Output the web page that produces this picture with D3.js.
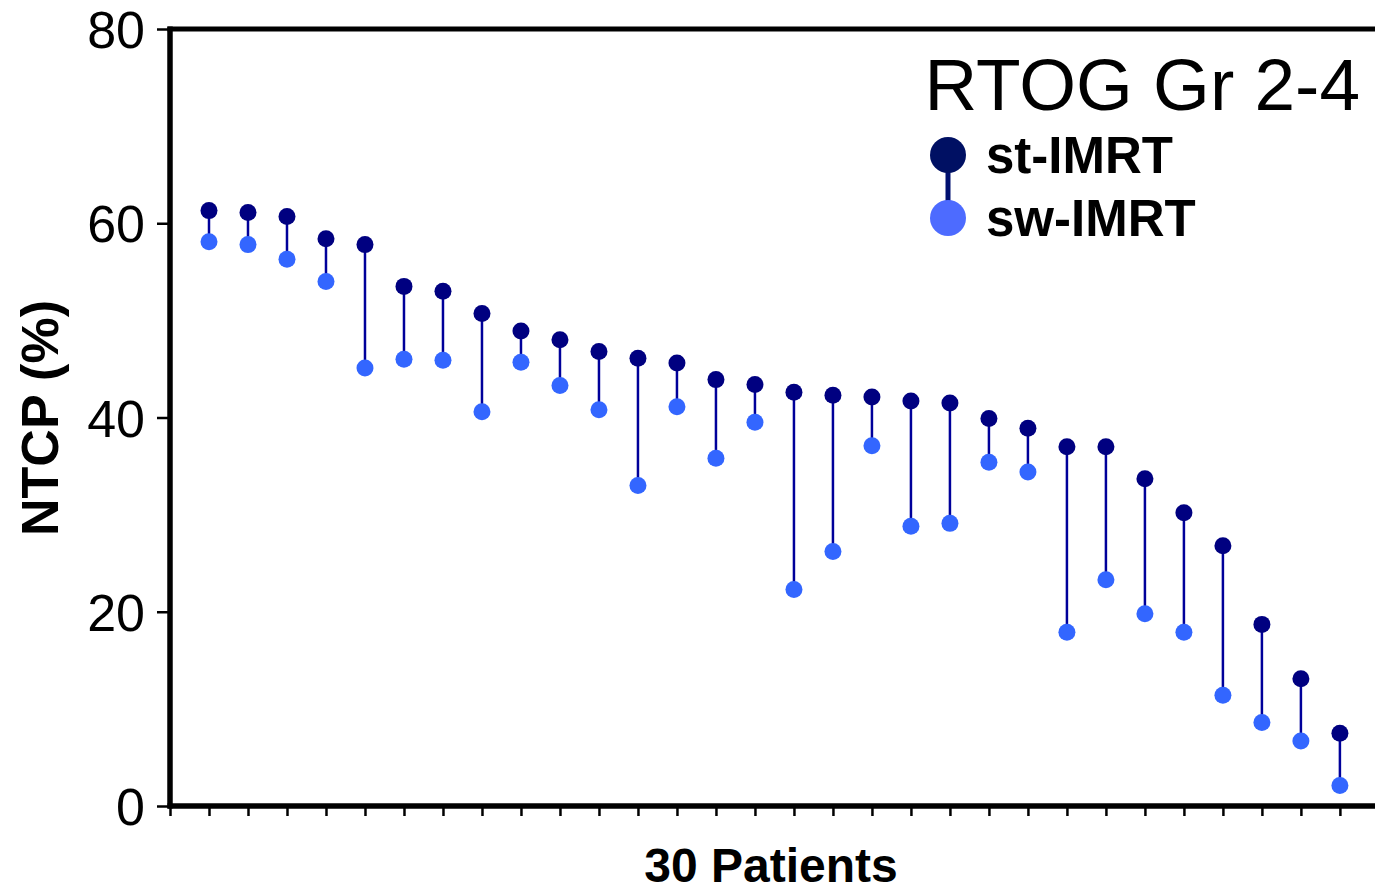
<!DOCTYPE html>
<html>
<head>
<meta charset="utf-8">
<script src="https://cdn.jsdelivr.net/npm/d3@7"></script>
<style>
  body { margin: 0; background: #fff; }
  svg { display: block; font-family: "Liberation Sans", Arial, sans-serif; }
</style>
</head>
<body>
<svg id="chart" width="1375" height="892"></svg>
<script>
// 30 patients, sorted by st-IMRT NTCP
const patients = d3.range(1, 31);
const stIMRT = [61.3, 61.1, 60.7, 58.4, 57.8, 53.5, 53.0, 50.7, 48.9, 48.0,
  46.8, 46.1, 45.6, 43.9, 43.4, 42.6, 42.3, 42.1, 41.7, 41.5,
  39.9, 38.9, 37.0, 37.0, 33.7, 30.2, 26.8, 18.7, 13.1, 7.5];
const swIMRT = [58.1, 57.8, 56.3, 54.0, 45.1, 46.0, 45.9, 40.6, 45.7, 43.3,
  40.8, 33.0, 41.1, 35.8, 39.5, 22.3, 26.2, 37.1, 28.8, 29.1,
  35.4, 34.4, 17.9, 23.3, 19.8, 17.9, 11.4, 8.6, 6.7, 2.1];
const yTicks = [0, 20, 40, 60, 80];
const legendItems = ["st-IMRT", "sw-IMRT"];

const svg = d3.select("#chart");
const pLeft = 170, pRight = 1375, pTop = 29, pBottom = 806;

const x = d3.scaleLinear().domain([0, 30.9]).range([pLeft, pRight]);
const y = d3.scaleLinear().domain([0, 80]).range([pBottom, pTop]);

const darkCol = "#000080";
const lightCol = "#3366ff";
const lineCol = "#00009a";

// y axis
const yAxis = svg.append("g")
  .attr("transform", `translate(${pLeft},0)`)
  .call(d3.axisLeft(y).tickValues(yTicks).tickSize(13).tickPadding(12));
yAxis.select(".domain").remove();
yAxis.selectAll(".tick line").attr("stroke", "#000").attr("stroke-width", 2.5);
yAxis.selectAll(".tick text")
  .attr("font-size", 52)
  .attr("fill", "#000")
  .attr("font-family", "Liberation Sans, Arial, sans-serif")
  .attr("dy", "0.36em");

// x axis ticks (one per patient)
const xAxis = svg.append("g")
  .attr("transform", `translate(0,${pBottom})`)
  .call(d3.axisBottom(x).tickValues(d3.range(0, 31)).tickSize(10).tickFormat(""));
xAxis.select(".domain").remove();
xAxis.selectAll(".tick line").attr("stroke", "#000").attr("stroke-width", 2.5);

// frame: left, top and bottom lines
svg.append("line").attr("x1", pLeft).attr("x2", pLeft).attr("y1", pTop - 2.5).attr("y2", pBottom + 2.5)
  .attr("stroke", "#000").attr("stroke-width", 5.5);
svg.append("line").attr("x1", pLeft - 2.5).attr("x2", pRight).attr("y1", pTop).attr("y2", pTop)
  .attr("stroke", "#000").attr("stroke-width", 5);
svg.append("line").attr("x1", pLeft - 2.5).attr("x2", pRight).attr("y1", pBottom).attr("y2", pBottom)
  .attr("stroke", "#000").attr("stroke-width", 5.5);

// connecting lines
svg.append("g").selectAll("line")
  .data(patients)
  .join("line")
  .attr("x1", d => x(d))
  .attr("x2", d => x(d))
  .attr("y1", (d, i) => y(stIMRT[i]))
  .attr("y2", (d, i) => y(swIMRT[i]))
  .attr("stroke", lineCol)
  .attr("stroke-width", 2.5);

// sw-IMRT points
svg.append("g").selectAll("circle")
  .data(patients)
  .join("circle")
  .attr("cx", d => x(d))
  .attr("cy", (d, i) => y(swIMRT[i]))
  .attr("r", 8.5)
  .attr("fill", lightCol);

// st-IMRT points
svg.append("g").selectAll("circle")
  .data(patients)
  .join("circle")
  .attr("cx", d => x(d))
  .attr("cy", (d, i) => y(stIMRT[i]))
  .attr("r", 8.5)
  .attr("fill", darkCol);

// axis titles
svg.append("text")
  .attr("transform", "translate(58,418) rotate(-90)")
  .attr("text-anchor", "middle")
  .attr("font-size", 52)
  .attr("font-weight", "bold")
  .text("NTCP (%)");

svg.append("text")
  .attr("x", 771)
  .attr("y", 882)
  .attr("text-anchor", "middle")
  .attr("font-size", 48)
  .attr("font-weight", "bold")
  .text("30 Patients");

// legend
svg.append("text")
  .attr("x", 1360)
  .attr("y", 110)
  .attr("text-anchor", "end")
  .attr("font-size", 73)
  .text("RTOG Gr 2-4");

const legY = [155, 218];
svg.append("line")
  .attr("x1", 948).attr("x2", 948)
  .attr("y1", legY[0]).attr("y2", legY[1])
  .attr("stroke", "#001070").attr("stroke-width", 5);
svg.append("g").selectAll("circle")
  .data(legendItems)
  .join("circle")
  .attr("cx", 948)
  .attr("cy", (d, i) => legY[i])
  .attr("r", 18)
  .attr("fill", (d, i) => i === 0 ? "#001063" : "#4d6bff");
svg.append("g").selectAll("text")
  .data(legendItems)
  .join("text")
  .attr("x", 986)
  .attr("y", (d, i) => legY[i] + 18)
  .attr("font-size", 51)
  .attr("font-weight", "bold")
  .text(d => d);
</script>
</body>
</html>
